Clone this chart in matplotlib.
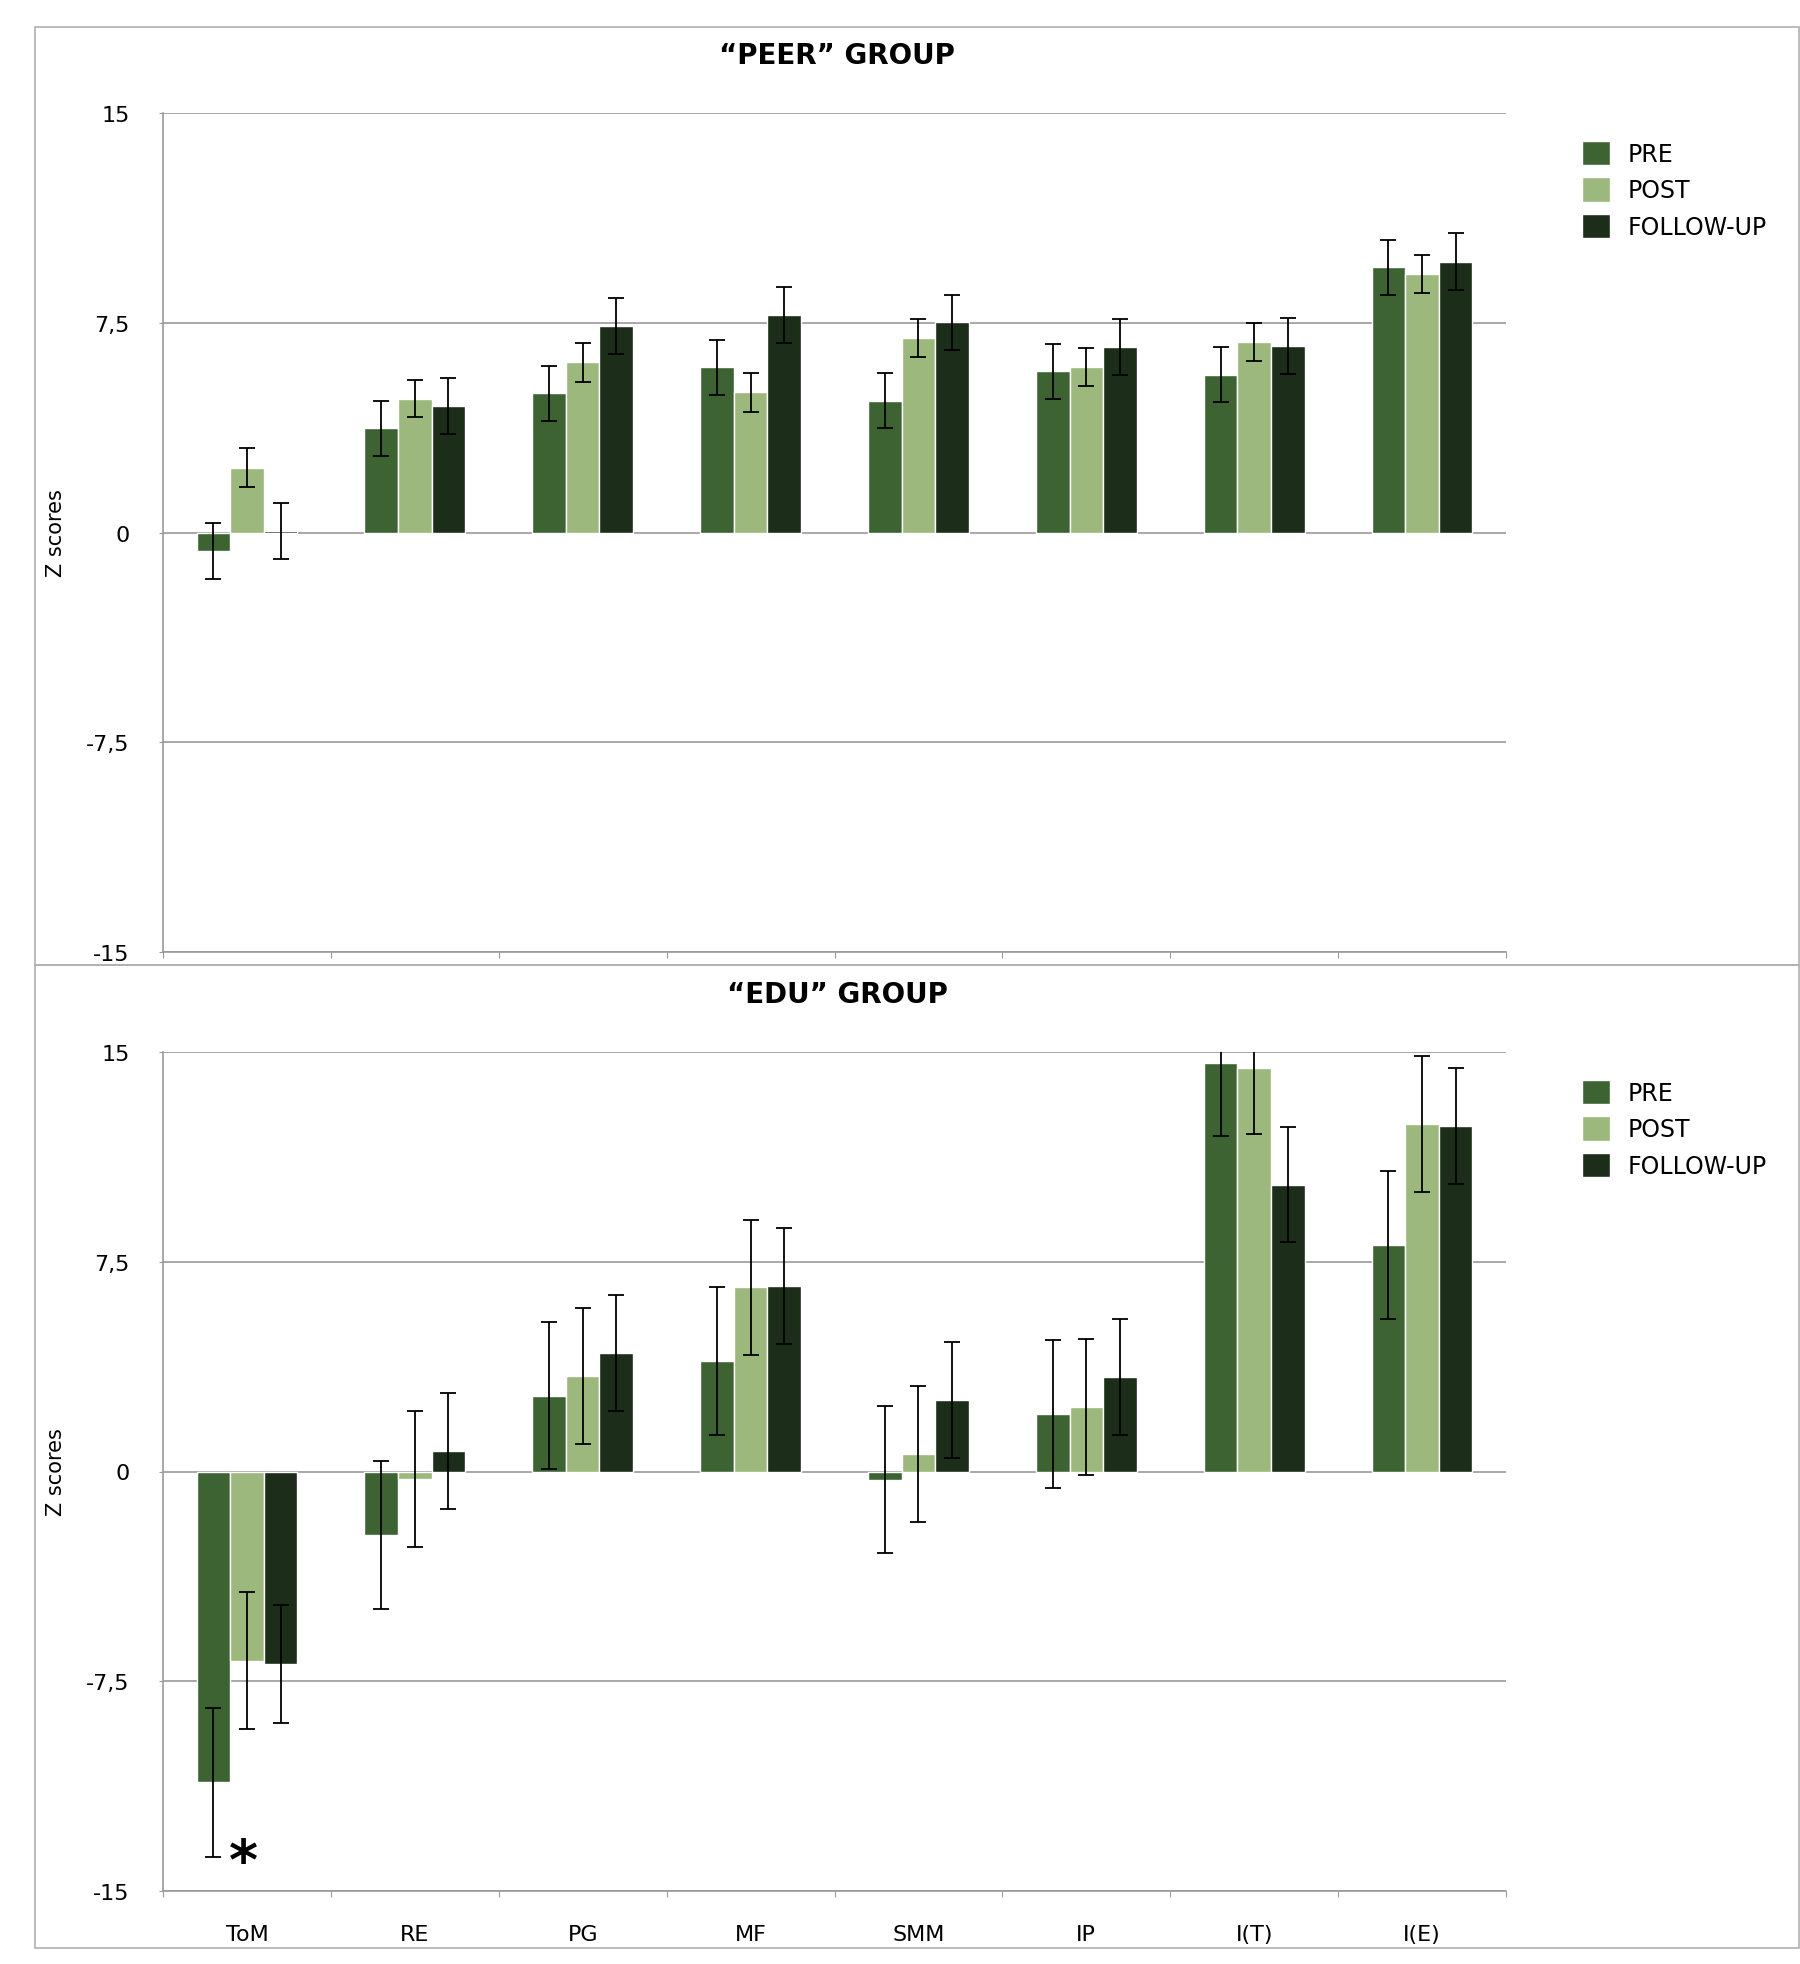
import numpy as np
import matplotlib
matplotlib.use('Agg')
from matplotlib import pyplot as plt
from matplotlib.patches import Rectangle

plt.rcParams['font.family'] = ['DejaVu Sans']

categories = ["ToM", "RE", "PG", "MF", "SMM", "IP", "I(T)", "I(E)"]
series_names = ["PRE", "POST", "FOLLOW-UP"]
series_colors = ["#3e6332", "#9cb87d", "#1c2e1a"]

# "PEER" group
peer_pre = [-0.66, 3.73, 4.98, 5.90, 4.71, 5.77, 5.64, 9.48]
peer_post = [2.32, 4.79, 6.08, 5.01, 6.95, 5.91, 6.82, 9.24]
peer_fu = [0.05, 4.53, 7.39, 7.77, 7.51, 6.64, 6.66, 9.69]
peer_pre_err = [0.99, 0.98, 0.98, 0.98, 0.98, 0.98, 0.98, 0.98]
peer_post_err = [0.69, 0.67, 0.69, 0.69, 0.69, 0.67, 0.67, 0.68]
peer_fu_err = [1.00, 1.00, 1.01, 1.01, 1.00, 1.01, 1.00, 1.01]

# "EDU" group
edu_pre = [-11.12, -2.26, 2.71, 3.94, -0.30, 2.06, 14.59, 8.10]
edu_post = [-6.76, -0.26, 3.43, 6.59, 0.62, 2.31, 14.44, 12.41]
edu_fu = [-6.88, 0.73, 4.23, 6.63, 2.57, 3.39, 10.26, 12.36]
edu_pre_err = [2.65, 2.65, 2.63, 2.64, 2.63, 2.64, 2.60, 2.64]
edu_post_err = [2.44, 2.43, 2.43, 2.42, 2.43, 2.43, 2.38, 2.43]
edu_fu_err = [2.10, 2.08, 2.08, 2.07, 2.07, 2.08, 2.07, 2.07]

y_ticks = [-15, -7.5, 0, 7.5, 15]
y_tick_labels = ["-15", "-7,5", "0", "7,5", "15"]

W, H = 1800, 1965
fig = plt.figure(figsize=(W / 100, H / 100), dpi=100)

grid_col = "#9a9a9a"


def fx(px):
    return px / W


def fy(px):
    return 1 - px / H


def draw_panel(top_px, frame, title, vals, errs, show_xlabels, legend_top):
    # panel frame (pixel box: top, bottom)
    ftop, fbot = frame
    fig.add_artist(Rectangle((fx(35), fy(fbot)), fx(W - 1 - 35), (fbot - ftop) / H,
                             transform=fig.transFigure, fill=False,
                             edgecolor="#b0b0b0", linewidth=1.2))
    fig.text(fx(837), fy(top_px - 58), title, ha="center", va="center",
             fontsize=20, fontweight="bold")

    ax = fig.add_axes([fx(163), fy(top_px + 839), fx(1506 - 163), 839 / H])
    x = np.arange(len(categories))
    width = 0.2
    for i, (v, e) in enumerate(zip(vals, errs)):
        ax.bar(x + (i - 1) * width, v, width, color=series_colors[i],
               edgecolor="white", linewidth=1.0, label=series_names[i], zorder=2)
        ax.errorbar(x + (i - 1) * width, v, yerr=e, fmt="none", ecolor="black",
                    elinewidth=1.3, capsize=5.5, capthick=1.3, zorder=3)

    ax.set_xlim(-0.5, len(categories) - 0.5)
    ax.set_ylim(-15, 15)
    ax.set_yticks(y_ticks)
    ax.set_yticklabels(y_tick_labels)
    ax.yaxis.grid(True, color=grid_col, linewidth=1.2, zorder=0)
    ax.set_axisbelow(True)
    ax.tick_params(axis="y", length=3, color=grid_col, pad=21, labelsize=16)

    ax.set_xticks(np.arange(len(categories) + 1) - 0.5)
    ax.set_xticklabels([])
    ax.set_xticks(x, minor=True)
    if show_xlabels:
        ax.set_xticklabels(categories, minor=True)
    ax.tick_params(axis="x", which="major", length=4, color=grid_col)
    ax.tick_params(axis="x", which="minor", length=0, pad=24, labelsize=16)

    for s in ["top", "right"]:
        ax.spines[s].set_visible(False)
    for s in ["left", "bottom"]:
        ax.spines[s].set_color(grid_col)
        ax.spines[s].set_linewidth(1.2)

    ax.set_ylabel("Z scores", fontsize=15)
    ax.yaxis.set_label_coords(-(163 - 66) / 1343, 0.5)

    ax.legend(loc="upper left", bbox_to_anchor=(fx(1582), fy(legend_top)),
              bbox_transform=fig.transFigure, frameon=False, fontsize=17,
              handlelength=1.2, handleheight=1.2, labelspacing=0.48,
              handletextpad=0.75, borderpad=0, borderaxespad=0)
    return ax


ax1 = draw_panel(114, (28, 966), "\u201cPEER\u201d GROUP",
                 [peer_pre, peer_post, peer_fu],
                 [peer_pre_err, peer_post_err, peer_fu_err], False, 142)
ax2 = draw_panel(1053, (966, 1949), "\u201cEDU\u201d GROUP",
                 [edu_pre, edu_post, edu_fu],
                 [edu_pre_err, edu_post_err, edu_fu_err], True, 1081)

# significance mark
ax2.text(-0.02, -14.0, "*", ha="center", va="center", fontsize=40,
         fontweight="bold")

fig.savefig("out.png", dpi=100)
